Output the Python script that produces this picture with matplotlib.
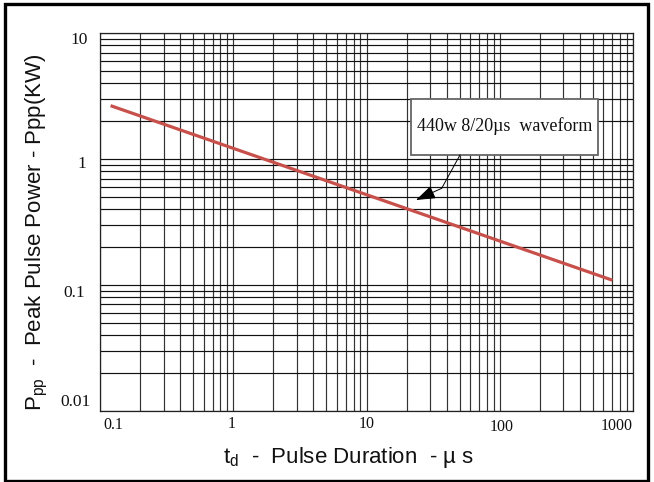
import matplotlib
matplotlib.use('Agg')
import matplotlib.pyplot as plt
import numpy as np
from matplotlib.patches import Rectangle, FancyArrowPatch
from matplotlib.lines import Line2D
from matplotlib.ticker import LogLocator
from matplotlib.transforms import offset_copy

# ---------------- data ----------------
pulse_us = [0.12, 700]          # pulse duration (µs)
power_kw = [2.66, 0.109]        # peak pulse power (kW)
xticks = [0.1, 1, 10, 100, 1000]
xticklabels = ['0.1', '1', '10', '100', '1000']
yticks = [10, 1, 0.1, 0.01]
yticklabels = ['10', '1', '0.1', '0.01']
note_text = '440w 8/20µs  waveform'

plt.rcParams['mathtext.fontset'] = 'custom'
plt.rcParams['mathtext.rm'] = 'Liberation Sans'
plt.rcParams['mathtext.it'] = 'Liberation Sans'

W, H = 654, 482
fig = plt.figure(figsize=(W / 100, H / 100), dpi=100)
ax_l, ax_r, ax_t, ax_b = 100, 633, 33.3, 410.7
ax = fig.add_axes([ax_l / W, 1 - ax_b / H, (ax_r - ax_l) / W, (ax_b - ax_t) / H])
ax.set_xscale('log')
ax.set_yscale('log')
ax.set_xlim(0.1, 1000)
ax.set_ylim(0.01, 10)

for axis in (ax.xaxis, ax.yaxis):
    axis.set_major_locator(LogLocator(base=10, numticks=20))
    axis.set_minor_locator(LogLocator(base=10, subs=np.arange(2, 10), numticks=100))
ax.grid(which='both', axis='y', color='#111111', linewidth=0.85)
ax.grid(which='both', axis='x', color='#333333', linewidth=0.85)
ax.set_axisbelow(True)
ax.tick_params(which='both', length=0, labelbottom=False, labelleft=False)
for s in ax.spines.values():
    s.set_color('#222222')
    s.set_linewidth(0.9)

ax.plot(pulse_us, power_kw, color='#c8504b', linewidth=2.3, solid_capstyle='butt', zorder=3)

# tick labels (serif, hand placed offsets like the original)
xfont = dict(family='Liberation Serif', size=11.5, color='#111111')
yfont = dict(family='Liberation Serif', size=12.5, color='#111111')
xoff = {'0.1': (3, -14, 'left'), '1': (-2, -13, 'center'), '10': (0, -13.5, 'center'),
        '100': (2, -16.5, 'center'), '1000': (0, -15.5, 'right')}
for v, lab in zip(xticks, xticklabels):
    dx, dy, ha = xoff[lab]
    tr = offset_copy(ax.get_xaxis_transform(), fig=fig, x=dx, y=dy, units='dots')
    ax.text(v, 0, lab, transform=tr, ha=ha, va='center', **xfont)
yoff = {'10': (-12.5, -7), '1': (-14, -4.5), '0.1': (-15, -8), '0.01': (-9, 9)}
for v, lab in zip(yticks, yticklabels):
    dx, dy = yoff[lab]
    tr = offset_copy(ax.get_yaxis_transform(), fig=fig, x=dx, y=dy, units='dots')
    ax.text(0, v, lab, transform=tr, ha='right', va='center', **yfont)

def fp(x, y):
    return (x / W, 1 - y / H)

# axis titles
fig.text(*fp(349, 457), 't$_{\\rm d}$  -  Pulse Duration  - µ s', ha='center', va='center',
         family='Liberation Sans', size=16, color='#111111')
fig.text(*fp(37, 232), 'P$_{\\rm pp}$  -  Peak Pulse Power - Ppp(KW)', ha='center', va='center',
         rotation=90, family='Liberation Sans', size=16, color='#111111')

# annotation box
bx0, by0, bx1, by1 = 411, 99, 598, 155
fig.patches.append(Rectangle(fp(bx0, by1), (bx1 - bx0) / W, (by1 - by0) / H,
                             transform=fig.transFigure, facecolor='white',
                             edgecolor='#666666', linewidth=1.3, zorder=5))
fig.text(*fp((bx0 + bx1) / 2, 126), note_text, ha='center', va='center',
         family='Liberation Serif', size=13, color='#111111', zorder=6)

# leader line + arrow
p0, p1, p2 = fp(460, 155), fp(441.7, 188.3), fp(416, 200)
fig.lines.append(Line2D([p0[0], p1[0]], [p0[1], p1[1]], transform=fig.transFigure,
                        color='black', linewidth=0.7, zorder=6))
fig.patches.append(FancyArrowPatch(p1, p2, transform=fig.transFigure,
                                   arrowstyle='-|>,head_length=1.2,head_width=0.42',
                                   mutation_scale=10, color='black', linewidth=0.7,
                                   shrinkA=0, shrinkB=0, zorder=6))

# outer frame
fig.patches.append(Rectangle(fp(4.5, 480.5), 643.5 / W, 477 / H, transform=fig.transFigure,
                             fill=False, edgecolor='black', linewidth=2.4, zorder=10))

fig.savefig('out.png', dpi=100)
